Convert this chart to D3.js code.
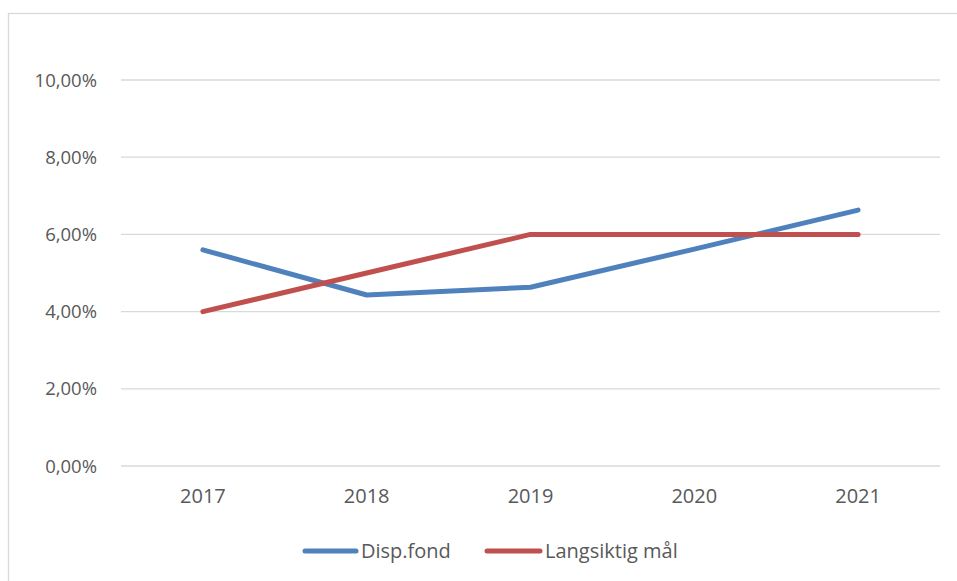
<!DOCTYPE html>
<html><head><meta charset="utf-8">
<script src="https://cdn.jsdelivr.net/npm/d3@7"></script>
<style>body{margin:0;background:#fff}svg{display:block}text{font-family:"Open Sans","Noto Sans",sans-serif;fill:#595959}</style>
</head><body>
<svg id="c" width="957" height="581"></svg>
<script>
const categories = ["2017","2018","2019","2020","2021"];
const dispFond = [5.60, 4.43, 4.63, 5.62, 6.63];
const langsiktigMal = [4.00, 5.00, 6.00, 6.00, 6.00];
const yTicks = [0, 2, 4, 6, 8, 10];
const seriesNames = ["Disp.fond", "Langsiktig mål"];
const colors = ["#4F81BD", "#C0504D"];

const svg = d3.select("#c");
svg.append("rect").attr("x", 8.5).attr("y", 13.5).attr("width", 960).attr("height", 600)
  .attr("fill", "none").attr("stroke", "#d9d9d9").attr("stroke-width", 1.3);

const x = d3.scaleBand().domain(categories).range([121, 940]);
const y = d3.scaleLinear().domain([0, 10]).range([466, 80]);

const fmt = v => v.toFixed(2).replace(".", ",") + "%";

const gy = svg.append("g");
gy.selectAll("line").data(yTicks).join("line")
  .attr("x1", 121).attr("x2", 940)
  .attr("y1", d => y(d)).attr("y2", d => y(d))
  .attr("stroke", "#d9d9d9").attr("stroke-width", 1.3);
gy.selectAll("text").data(yTicks).join("text")
  .attr("x", 97).attr("y", d => y(d)).attr("dy", "0.36em")
  .attr("text-anchor", "end").attr("font-size", 18.5).text(fmt);

svg.append("g").selectAll("text").data(categories).join("text")
  .attr("x", d => x(d) + x.bandwidth() / 2).attr("y", 496).attr("dy", "0.36em")
  .attr("text-anchor", "middle").attr("font-size", 20).text(d => d);

const line = d3.line().x((d, i) => x(categories[i]) + x.bandwidth() / 2).y(d => y(d));
[dispFond, langsiktigMal].forEach((s, k) => {
  svg.append("path").datum(s).attr("d", line).attr("fill", "none")
    .attr("stroke", colors[k]).attr("stroke-width", 5)
    .attr("stroke-linecap", "round").attr("stroke-linejoin", "round");
});

const legend = [{x1: 305, x2: 356, tx: 361}, {x1: 487, x2: 540, tx: 545}];
legend.forEach((l, k) => {
  svg.append("line").attr("x1", l.x1).attr("x2", l.x2).attr("y1", 551).attr("y2", 551)
    .attr("stroke", colors[k]).attr("stroke-width", 5).attr("stroke-linecap", "round");
  svg.append("text").attr("x", l.tx).attr("y", 551).attr("dy", "0.36em")
    .attr("font-size", 20).text(seriesNames[k]);
});
</script>
</body></html>
